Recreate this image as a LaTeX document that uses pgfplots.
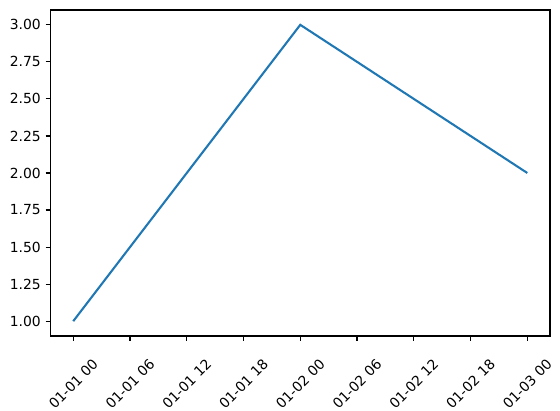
\documentclass[border=0pt]{standalone}
\usepackage{fontspec}
\setmainfont{DejaVu Sans}
\usepackage{pgfplots}
\pgfplotsset{compat=1.18}
\definecolor{mplblue}{HTML}{1F77B4}
\begin{document}
\begin{tikzpicture}
\useasboundingbox (0,0) rectangle (403.2pt,295.2pt);
\begin{axis}[
  at={(36.4pt,53.3pt)}, anchor=south west,
  scale only axis, width=359.6pt, height=234.7pt,
  xmin=-2.4, xmax=50.4, ymin=0.9, ymax=3.1,
  xtick={0,6,12,18,24,30,36,42,48},
  xticklabels={01-01 00, 01-01 06, 01-01 12, 01-01 18, 01-02 00, 01-02 06, 01-02 12, 01-02 18, 01-03 00},
  ytick={1,1.25,1.5,1.75,2,2.25,2.5,2.75,3},
  yticklabel style={/pgf/number format/fixed, /pgf/number format/fixed zerofill, /pgf/number format/precision=2},
  /pgf/number format/assume math mode=true,
  xtick pos=lower, ytick pos=left,
  tick align=outside, major tick length=3.5pt,
  tick style={line width=0.8pt, black},
  axis line style={line width=0.8pt},
  x tick label style={yshift=-31pt, rotate=45, anchor=center},
  ticklabel style={font=\fontsize{10}{12}\selectfont},
]
\addplot[mplblue, line width=1.5pt] coordinates {(0,1) (24,3) (48,2)};
\end{axis}
\end{tikzpicture}
\end{document}
